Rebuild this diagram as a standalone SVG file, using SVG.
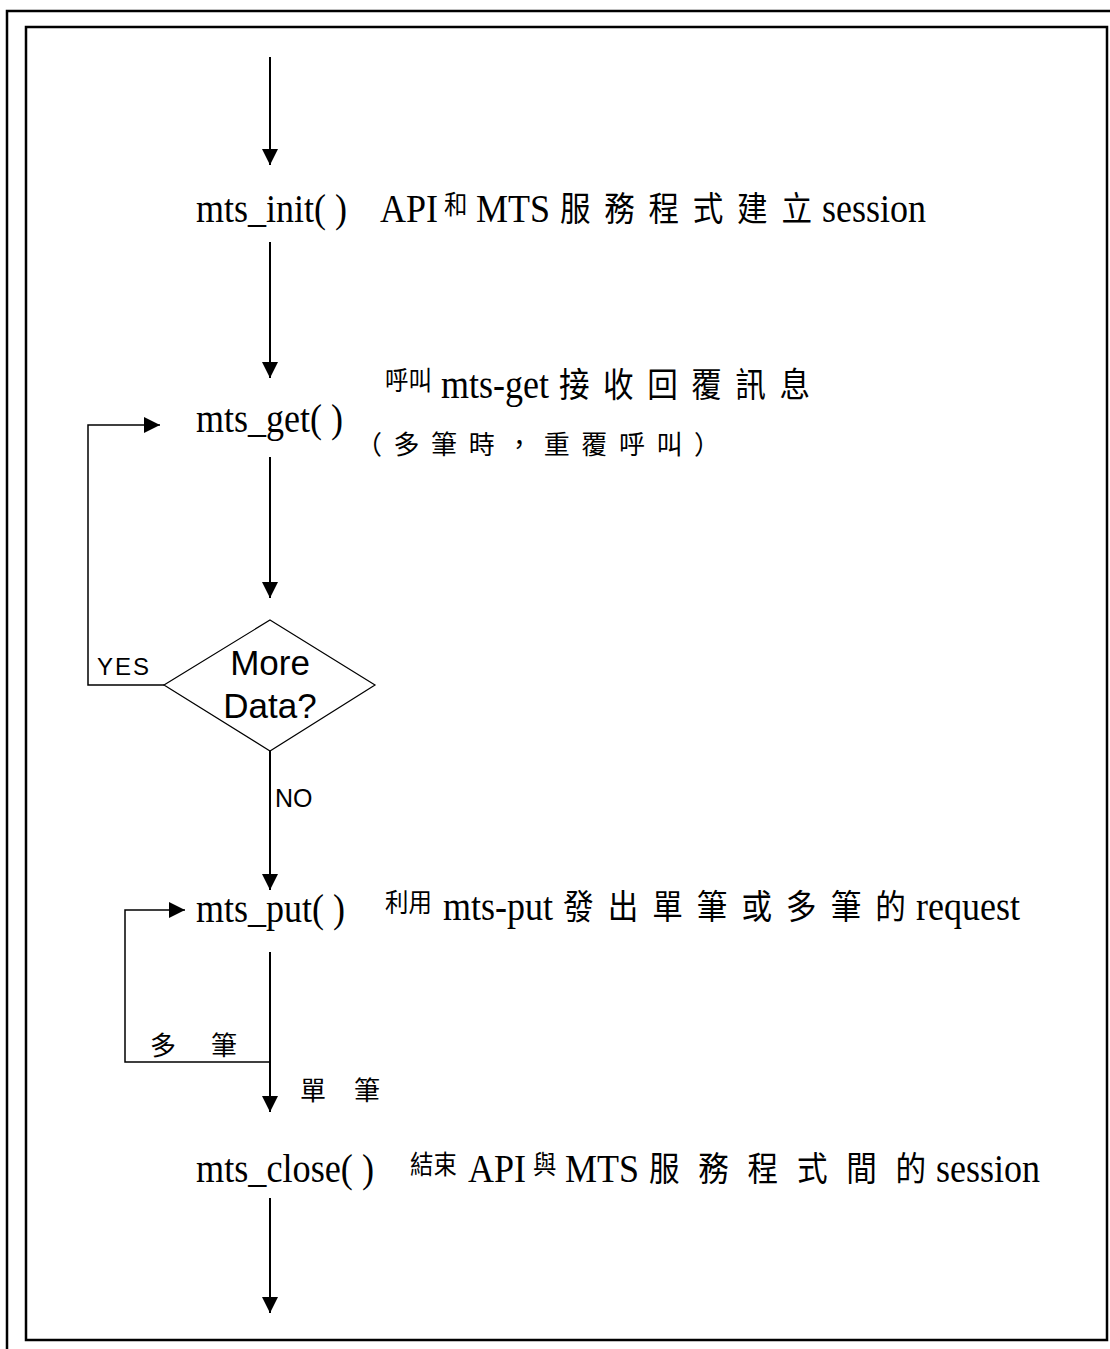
<svg xmlns="http://www.w3.org/2000/svg" width="1110" height="1349" viewBox="0 0 1110 1349">
<style>
.frame{fill:none;stroke:#000;stroke-width:2.5}
.conn{fill:none;stroke:#000;stroke-width:2}
.thin{fill:none;stroke:#000;stroke-width:1.5}
.fn{font-family:"Liberation Serif","Times New Roman",serif;font-size:40px;fill:#000}
.lat{font-family:"Liberation Serif","Times New Roman",serif;font-size:40px}
.cjk{font-family:"Noto Sans CJK TC","Noto Sans CJK SC",sans-serif;font-size:34px}
.cjks{font-family:"Noto Sans CJK TC","Noto Sans CJK SC",sans-serif;font-size:26px}
.sans{font-family:"Liberation Sans",Arial,sans-serif;fill:#000}
text{fill:#000}
</style>
<defs>
<marker id="ah" markerUnits="userSpaceOnUse" markerWidth="16" markerHeight="16" refX="16" refY="8" orient="auto">
<path d="M0,0 L16,8 L0,16 z" fill="#000"/>
</marker>
</defs>
<rect width="1110" height="1349" fill="#fff"/>
<g id="frame">
<path class="frame" d="M7,1349 V11 H1110"/>
<rect class="frame" x="26" y="27" width="1081" height="1313"/>
</g>
<g id="connectors">
<path class="conn" d="M270,57 V165" marker-end="url(#ah)"/>
<path class="conn" d="M270,242 V378" marker-end="url(#ah)"/>
<path class="conn" d="M270,457 V598" marker-end="url(#ah)"/>
<path class="conn" d="M270,751 V890" marker-end="url(#ah)"/>
<path class="conn" d="M270,952 V1112" marker-end="url(#ah)"/>
<path class="conn" d="M270,1198 V1313" marker-end="url(#ah)"/>
<path class="thin" d="M164,685 H88 V425 H160" marker-end="url(#ah)"/>
<path class="thin" d="M270,1062 H125 V910 H185" marker-end="url(#ah)"/>
<text class="sans" x="97" y="675" font-size="24" letter-spacing="2">YES</text>
<text class="sans" x="275" y="807" font-size="25">NO</text>
<text class="cjks" x="150" y="1055" font-size="30" letter-spacing="35">多筆</text>
<text class="cjks" x="300" y="1100" font-size="30" letter-spacing="28">單筆</text>
</g>
<g id="n_init">
<text class="fn" x="196" y="222" textLength="151" lengthAdjust="spacingAndGlyphs">mts_init( )</text>
<text transform="translate(380,222) scale(0.9,1)"><tspan class="lat" x="0" y="0">API</tspan><tspan class="cjks" x="71.1" y="-8">和</tspan><tspan class="lat" x="106.7" y="0">MTS</tspan><tspan class="cjk" x="200" y="-1" textLength="280">服務程式建立</tspan><tspan class="lat" x="491.1" y="0">session</tspan></text>
</g>
<g id="n_get">
<text class="fn" x="196" y="432" textLength="147" lengthAdjust="spacingAndGlyphs">mts_get( )</text>
<text transform="translate(385,398) scale(0.9,1)"><tspan class="cjks" x="0" y="-8">呼叫</tspan><tspan class="lat" x="62.2" y="0">mts-get</tspan><tspan class="cjk" x="193.3" y="-1" textLength="278.9">接收回覆訊息</tspan></text>
<text class="cjks" x="356" y="454" font-size="31" textLength="364" lengthAdjust="spacing">（多筆時，重覆呼叫）</text>
</g>
<g id="n_decision">
<polygon points="270,620 375,685 270,751 164,685" fill="#fff" stroke="#000" stroke-width="1.2"/>
<text class="sans" x="270" y="675" font-size="35" text-anchor="middle">More</text>
<text class="sans" x="270" y="718" font-size="35" text-anchor="middle">Data?</text>
</g>
<g id="n_put">
<text class="fn" x="196" y="922" textLength="149" lengthAdjust="spacingAndGlyphs">mts_put( )</text>
<text transform="translate(385,920) scale(0.9,1)"><tspan class="cjks" x="0" y="-8">利用</tspan><tspan class="lat" x="64.4" y="0">mts-put</tspan><tspan class="cjk" x="197.8" y="-1" textLength="381">發出單筆或多筆的</tspan><tspan class="lat" x="590" y="0">request</tspan></text>
</g>
<g id="n_close">
<text class="fn" x="196" y="1182" textLength="178" lengthAdjust="spacingAndGlyphs">mts_close( )</text>
<text transform="translate(410,1182) scale(0.9,1)"><tspan class="cjks" x="0" y="-8">結束</tspan><tspan class="lat" x="64.4" y="0">API</tspan><tspan class="cjks" x="136.7" y="-8">與</tspan><tspan class="lat" x="172.2" y="0">MTS</tspan><tspan class="cjk" x="265.6" y="-1" textLength="307.8">服務程式間的</tspan><tspan class="lat" x="584.4" y="0">session</tspan></text>
</g>
</svg>
